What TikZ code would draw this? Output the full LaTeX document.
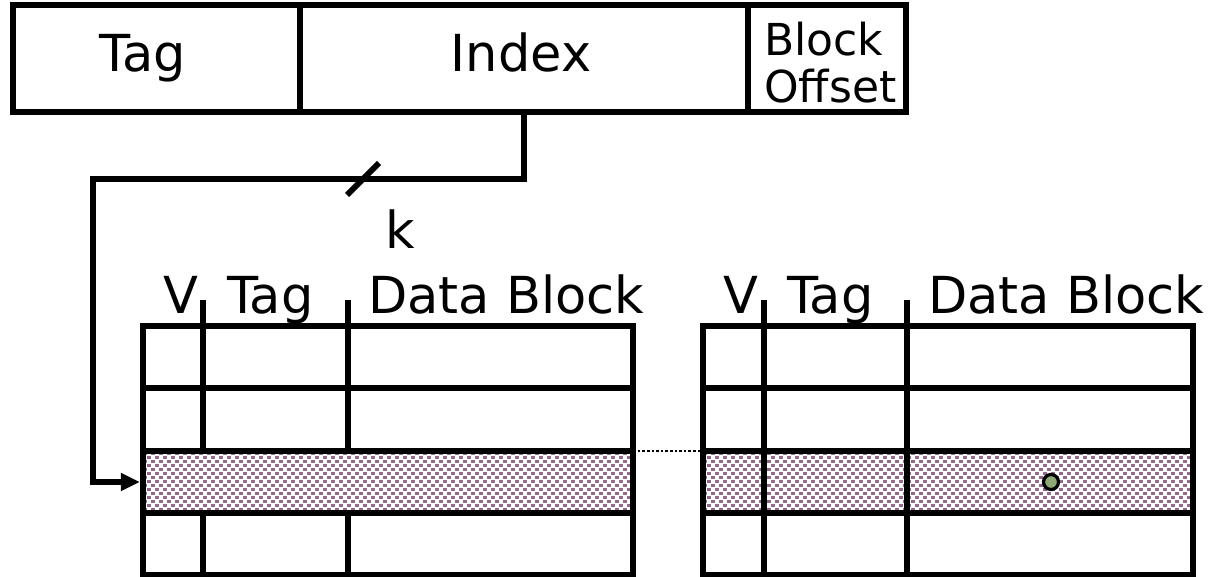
\documentclass[tikz,border=0pt]{standalone}
\usepackage{fontspec}
\setmainfont{DejaVu Sans}
\usetikzlibrary{arrows.meta}

\definecolor{mauve}{RGB}{146,106,140}
\definecolor{leafgreen}{RGB}{143,168,120}

\tikzset{
  heavy/.style={line width=5.4pt, line join=miter},
  field/.style={draw, heavy, rectangle, inner sep=0pt},
  bigtext/.style={inner sep=0pt, anchor=base, font=\fontsize{51}{60}\selectfont},
  smalltext/.style={inner sep=0pt, anchor=base west, font=\fontsize{44}{52}\selectfont},
  headtext/.style={inner sep=0pt, anchor=base west, font=\fontsize{51}{60}\selectfont},
  wire/.style={line width=6pt, line join=miter},
  bypass/.style={line width=2.6pt, dotted},
  hit/.style={circle, draw, line width=3.2pt, fill=leafgreen, minimum size=15pt, inner sep=0pt},
  speck/.style={fill=mauve}
}

% staggered small squares filling one selected cache line
\newcommand{\confettirow}[2]{%
  \begin{scope}
    \clip (#1,451) rectangle ++(490,62);
    \foreach \j in {0,...,15} {
      \pgfmathsetmacro{\off}{mod(\j,2)*4}
      \foreach \i in {0,...,61} {
        \fill[speck] ({#1+\off+8*\i},{#2+4*\j}) rectangle ++(3.6,3.2);
      }
    }
  \end{scope}}

\begin{document}
\begin{tikzpicture}[x=1pt,y=-1pt]
\useasboundingbox (0,0) rectangle (1217,577);

% address register
\node[field, minimum width=287pt, minimum height=107pt] (tagF) at (156.5,58.5) {};
\node[field, minimum width=448pt, minimum height=107pt] (idxF) at (524,58.5) {};
\node[field, minimum width=158pt, minimum height=107pt] (offF) at (827,58.5) {};
\node[bigtext] (tagT) at (143,72) {Tag};
\node[bigtext] (idxT) at (521,72) {Index};
\node[smalltext] (blkT) at (764,56) {Block};
\node[smalltext] (offT) at (764,103) {Offset};

% left way: hatched selected set, frame, row lines, column dividers
\confettirow{143}{452}
\node[inner sep=0pt, minimum width=490pt, minimum height=62pt] (rowL) at (388,482) {};
\draw[heavy] (143,326) rectangle (633,575);
\draw[heavy] (143,388) -- (633,388);
\draw[heavy] (143,451) -- (633,451);
\draw[heavy] (143,513) -- (633,513);
\draw[heavy] (203,300) -- (203,451) (203,513) -- (203,575);
\draw[heavy] (348,300) -- (348,451) (348,513) -- (348,575);

% right way
\confettirow{703}{452}
\node[inner sep=0pt, minimum width=490pt, minimum height=62pt] (rowR) at (948,482) {};
\draw[heavy] (703,326) rectangle (1193,575);
\draw[heavy] (703,388) -- (1193,388);
\draw[heavy] (703,451) -- (1193,451);
\draw[heavy] (703,513) -- (1193,513);
\draw[heavy] (764,300) -- (764,575);
\draw[heavy] (907,300) -- (907,575);

% column headings
\node[headtext] (vL) at (163,313) {V};
\node[headtext] (tL) at (227,313) {Tag};
\node[headtext] (dL) at (368,313) {Data Block};
\node[headtext] (vR) at (723,313) {V};
\node[headtext] (tR) at (787,313) {Tag};
\node[headtext] (dR) at (928,313) {Data Block};

% index bus into the selected set
\coordinate (corner) at (93,179);
\draw[wire, -{Triangle[length=19pt,width=17pt]}]
  (idxF.south) |- (corner) |- ([xshift=-3pt]rowL.west);
\coordinate (busmark) at (363,179);
\draw[wire] ([shift={(-16,16)}]busmark) -- ([shift={(16,-16)}]busmark);
\node[bigtext] (kT) at (400,248) {k};

% link between the two ways of the set
\draw[bypass] (rowL.north east) -- (rowR.north west);

% addressed word within the block
\node[hit] (word) at (1051,482) {};
\end{tikzpicture}
\end{document}
